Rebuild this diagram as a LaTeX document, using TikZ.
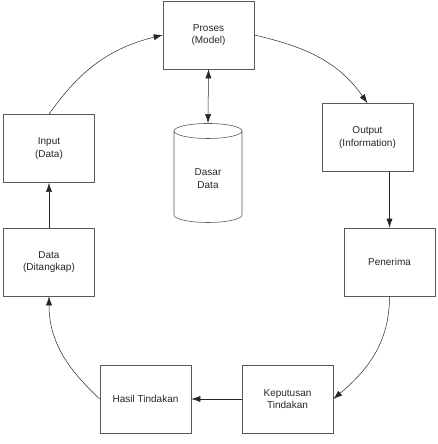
\documentclass[tikz,border=0pt]{standalone}
\usepackage{fontspec}
\setmainfont{Liberation Sans}
\usetikzlibrary{shapes.geometric,arrows.meta}

\tikzset{
box/.style={draw=black!65, line width=0.6pt, minimum width=91pt, minimum height=68pt, align=center, font=\fontsize{10}{12.5}\selectfont, text=black!85},
db/.style={draw=black!65, line width=0.6pt, cylinder, shape border rotate=90, aspect=0.45, minimum width=68pt, minimum height=99pt, align=center, font=\fontsize{10}{12.5}\selectfont, text=black!85},
link/.style={line width=0.5pt, black!85}
}

\begin{document}
\begin{tikzpicture}[x=1pt,y=1pt,>={Latex[length=9pt,width=6pt]}]
\useasboundingbox (0,0) rectangle (438,444);

\node [box] (proses) at (208.5,409) {Proses\\(Model)};
\node [box] (input) at (49,295.5) {Input\\(Data)};
\node [box] (data) at (49,182) {Data\\(Ditangkap)};
\node [box] (output) at (367.5,306.5) {Output\\(Information)};
\node [box] (penerima) at (389.5,182) {Penerima};
\node [box] (hasil) at (145.5,45) {Hasil Tindakan};
\node [box] (keputusan) at (287.5,45) {Keputusan\\Tindakan};
\node [db] (dasar) at (208,265.5) {Dasar\\Data};

\draw [link, ->] (input.north) to [out=55, in=194] (proses.west);
\draw [link, ->] (proses.east) to [out=-13, in=125] (output.north);
\draw [link, ->] (output.south -| penerima.north) -- (penerima.north);
\draw [link, ->] (penerima.south) to [out=-90, in=40] (keputusan.east);
\draw [link, ->] (keputusan.west) -- (hasil.east);
\draw [link, ->] (hasil.west) to [out=137, in=-90] (data.south);
\draw [link, ->] (data.north) -- (input.south);
\draw [link, <->] (proses.south) -- (dasar.north);
\end{tikzpicture}
\end{document}
